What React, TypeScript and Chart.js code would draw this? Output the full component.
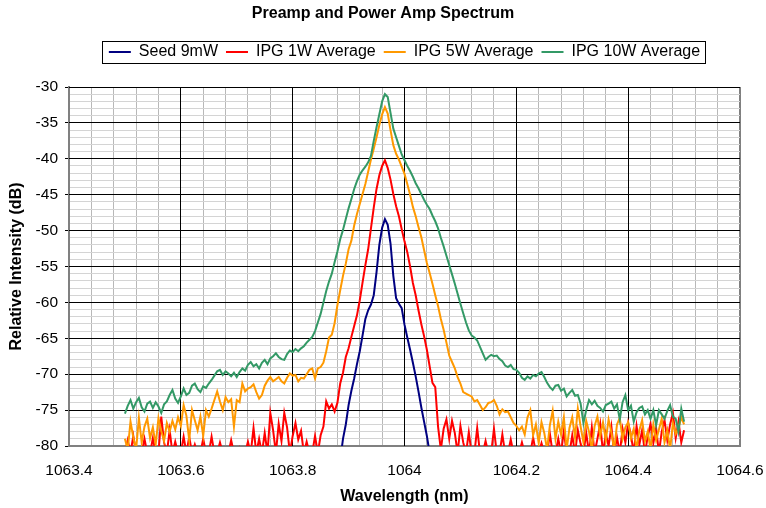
import { useEffect, useRef } from "react";
import { Chart, registerables } from "chart.js";

Chart.register(...registerables);

const FONT = "Arial, 'Liberation Sans', sans-serif";

const chartTitle = "Preamp and Power Amp Spectrum";
const xAxisTitle = "Wavelength (nm)";
const yAxisTitle = "Relative Intensity (dB)";

const seriesNames = ["Seed 9mW", "IPG 1W Average", "IPG 5W Average", "IPG 10W Average"];
const seriesColors = ["#000080", "#FF0000", "#FF9900", "#339966"];

// axis ranges / tick spacing
const X_MIN = 1063.4;
const X_MAX = 1064.6;
const X_MAJOR = 0.2;
const X_MINOR = 0.04;
const Y_MIN = -80;
const Y_MAX = -30;
const Y_MAJOR = 5;
const Y_MINOR = 1;

// sampling grid of the IPG spectra (1063.5 ... 1064.5 nm, 0.005 nm step)
const GRID_START = 1063.5;
const GRID_STEP = 0.005;
const GRID_COUNT = 201;
const wavelengths: number[] = Array.from({ length: GRID_COUNT }, (_, i) =>
  +(GRID_START + i * GRID_STEP).toFixed(3)
);

// Seed 9mW (only present around the line centre)
const seedWavelength = [
  1063.885, 1063.89, 1063.895, 1063.9, 1063.905, 1063.91, 1063.915, 1063.92, 1063.925, 1063.93,
  1063.935, 1063.94, 1063.945, 1063.95, 1063.955, 1063.96, 1063.965, 1063.97, 1063.975, 1063.98,
  1063.985, 1063.99, 1063.995, 1064, 1064.005, 1064.01, 1064.015, 1064.02, 1064.025, 1064.03,
  1064.035, 1064.04, 1064.045,
];
const seedValues = [
  -82, -79.0, -77.0, -74.3, -72.3, -70.6, -68.6, -66.8, -64.6, -62.3,
  -61.1, -60.3, -59.0, -55.8, -52.0, -49.6, -48.4, -49.2, -51.8, -56.3,
  -59.4, -60.2, -60.8, -63.1, -64.9, -66.6, -68.4, -70.3, -72.4, -74.6,
  -76.6, -78.6, -81,
];

// IPG 1W Average
const ipg1WValues = [
  -81, -79.2, -81, -78.6, -81, -80.5, -81, -79.0, -81, -81,
  -78.9, -81, -81, -75.9, -79.5, -81, -77.8, -81, -79.4, -81,
  -81, -78.7, -81, -78.7, -81, -79.8, -81, -81, -79.0, -81,
  -81, -78.7, -81, -81, -79.5, -81, -81, -81, -79.2, -81,
  -81, -80.2, -81, -81, -79.4, -81, -77.5, -81, -79.0, -81,
  -78.2, -81, -75.4, -77.8, -81, -76.9, -79.3, -75.4, -77.4, -81,
  -78.6, -76.8, -79.1, -77.9, -81, -79.4, -81, -81, -78.6, -81,
  -78.5, -77.3, -73.8, -74.8, -74.2, -75.2, -74.0, -71.3, -69.8, -67.6,
  -66.4, -64.8, -63.3, -61.8, -59.7, -57.2, -54.8, -52.6, -49.7, -46.8,
  -44.2, -42.3, -41.0, -40.2, -41.3, -42.9, -44.9, -46.6, -48.0, -49.8,
  -51.5, -53.0, -55.0, -57.3, -59.0, -61.1, -63.0, -64.7, -66.6, -68.9,
  -71.2, -71.8, -77.3, -80.5, -77.6, -76.3, -79.0, -76.5, -78.2, -81,
  -77.2, -79.5, -81, -78.1, -81, -81, -77.5, -81, -81, -79.3,
  -81, -81, -77.6, -81, -81, -78.4, -81, -81, -79.1, -81,
  -81, -81, -79.5, -81, -81, -81, -78.8, -81, -81, -79.6,
  -81, -81, -78.3, -81, -81, -79.0, -81, -77.9, -81, -81,
  -78.5, -81, -77.8, -79.7, -81, -78.2, -81, -77.4, -81, -79.0,
  -76.9, -81, -78.3, -80.0, -77.3, -81, -78.8, -81, -77.6, -79.5,
  -76.8, -78.5, -81, -77.2, -79.8, -77.8, -81, -78.7, -76.9, -79.6,
  -77.5, -81, -78.0, -76.4, -79.2, -77.0, -75.4, -78.9, -76.6, -79.5,
  -77.8,
];

// IPG 5W Average
const ipg5WValues = [
  -79.0, -80.5, -76.6, -78.8, -80.5, -76.1, -79.5, -77.3, -76.2, -78.9,
  -77.4, -79.8, -76.1, -77.9, -79.3, -76.8, -78.0, -76.5, -77.7, -76.0,
  -77.2, -74.3, -75.8, -79.2, -75.0, -76.4, -77.8, -75.9, -78.6, -75.0,
  -75.9, -74.8, -73.6, -72.4, -73.8, -75.0, -73.2, -73.9, -73.5, -77.3,
  -73.6, -73.9, -71.3, -72.4, -72.0, -71.8, -71.4, -72.5, -73.4, -72.9,
  -71.6, -70.9, -70.4, -71.0, -70.7, -70.4, -71.0, -71.3, -70.5, -69.9,
  -70.2, -70.1, -71.0, -70.5, -70.6, -70.0, -69.4, -69.2, -70.6, -69.2,
  -69.0, -68.4, -66.8, -64.9, -64.5, -62.9, -60.4, -58.3, -56.3, -54.6,
  -52.6, -51.4, -49.3, -47.7, -46.3, -44.9, -43.5, -41.8, -40.1, -38.6,
  -37.0, -35.3, -33.8, -32.8, -33.7, -36.0, -38.1, -39.3, -40.1, -41.1,
  -42.1, -43.5, -45.0, -46.7, -48.0, -49.5, -50.9, -52.7, -54.5, -55.9,
  -57.4, -59.0, -60.5, -62.3, -63.8, -65.6, -67.4, -68.3, -69.2, -70.4,
  -71.3, -72.5, -72.7, -72.9, -73.1, -73.8, -73.6, -74.3, -75.0, -74.6,
  -74.0, -73.9, -73.6, -74.4, -75.6, -74.9, -75.3, -75.2, -76.0, -76.8,
  -77.2, -77.8, -77.3, -78.4, -76.0, -75.0, -78.5, -77.0, -79.6, -76.7,
  -78.2, -80.5, -77.1, -75.1, -79.0, -76.6, -78.4, -76.0, -80.5, -77.5,
  -76.0, -78.8, -74.8, -77.3, -79.5, -76.5, -78.0, -80.5, -77.2, -75.9,
  -78.6, -76.7, -79.2, -76.3, -78.1, -80.5, -77.0, -76.1, -79.0, -77.4,
  -76.7, -78.9, -77.6, -80.5, -77.8, -76.4, -79.3, -78.0, -80.5, -77.0,
  -79.2, -77.7, -76.2, -79.5, -77.8, -80.5, -76.8, -78.3, -77.5, -76.0,
  -77.0,
];

// IPG 10W Average
const ipg10WValues = [
  -75.5, -74.4, -73.6, -74.8, -73.9, -73.3, -74.6, -75.2, -74.1, -73.8,
  -74.7, -73.9, -74.5, -75.4, -74.2, -73.8, -72.9, -72.2, -73.4, -74.0,
  -73.1, -72.0, -72.9, -72.6, -71.6, -71.3, -72.1, -72.5, -71.7, -71.9,
  -71.3, -70.8, -70.2, -69.6, -69.4, -70.1, -69.6, -69.9, -70.3, -69.8,
  -70.4, -69.7, -69.2, -69.5, -68.7, -68.3, -68.9, -68.6, -69.2, -68.4,
  -68.0, -68.6, -67.8, -67.5, -67.1, -67.6, -67.9, -68.0, -67.2, -66.7,
  -66.9, -66.5, -66.8, -66.4, -66.1, -65.6, -65.2, -64.8, -64.0, -62.8,
  -61.6, -60.0, -58.4, -57.1, -56.0, -54.4, -52.9, -51.2, -49.9, -48.4,
  -46.9, -45.6, -44.2, -43.1, -42.2, -41.6, -41.1, -40.5, -39.6, -37.5,
  -35.6, -33.8, -32.0, -31.0, -31.4, -33.6, -35.8, -37.0, -38.2, -39.4,
  -40.2, -41.0, -41.7, -42.5, -43.4, -44.1, -44.9, -45.7, -46.4, -47.0,
  -47.9, -48.7, -49.7, -51.0, -52.2, -53.5, -54.8, -56.1, -57.4, -58.8,
  -60.2, -61.5, -62.8, -63.9, -64.6, -64.9, -65.3, -66.2, -67.1, -68.0,
  -67.6, -67.3, -67.5, -67.4, -67.9, -68.2, -68.8, -69.0, -68.7, -69.3,
  -69.4, -69.8, -70.5, -70.8, -70.3, -70.6, -70.1, -70.3, -69.9, -69.7,
  -70.4, -71.2, -71.8, -72.2, -71.6, -71.5, -72.3, -72.0, -73.1, -72.6,
  -72.2, -73.0, -72.9, -74.1, -76.8, -75.0, -73.6, -74.2, -73.7, -74.4,
  -74.7, -75.2, -74.3, -74.1, -73.8, -74.8, -74.2, -76.3, -73.9, -72.9,
  -75.0, -74.4, -76.6, -75.3, -74.7, -74.5, -75.6, -75.0, -76.2, -75.0,
  -77.1, -75.0, -75.6, -76.2, -75.1, -74.3, -75.9, -76.2, -78.0, -74.8,
  -76.6,
];

const isMultiple = (v: number, step: number) => {
  const r = v / step;
  return Math.abs(r - Math.round(r)) < 1e-6;
};

const toPoints = (xs: number[], ys: number[]) => xs.map((x, i) => ({ x, y: ys[i] }));

const LEGEND_GAP = 17;

const alignPx = (p: number) => Math.round(p - 0.5) + 0.5;

const excelLayoutPlugin: any = {
  id: "excelLayout",
  beforeLayout(chart: any) {
    const legend = chart.legend;
    if (legend && !legend.__gapPatched) {
      const origFit = legend.fit.bind(legend);
      legend.fit = function () {
        origFit();
        this.height += LEGEND_GAP;
      };
      legend.__gapPatched = true;
    }
  },
  afterLayout(chart: any) {
    const ca = chart.chartArea;
    const legend = chart.legend;
    if (legend) {
      const d = (ca.left + ca.right) / 2 - (legend.left + legend.right) / 2;
      legend.left += d;
      legend.right += d;
    }
    const t = chart.titleBlock;
    if (t) {
      const d = chart.width / 2 - (t.left + t.right) / 2;
      t.left += d;
      t.right += d;
    }
  },
  // major gridlines are drawn over the minor ones (as in the original)
  beforeDatasetsDraw(chart: any) {
    const { ctx, chartArea: ca, scales } = chart;
    const xs = scales.x;
    const ys = scales.y;
    ctx.save();
    ctx.strokeStyle = "#000000";
    ctx.lineWidth = 1;
    ctx.beginPath();
    for (const t of xs.ticks) {
      const v = t.value;
      if (!isMultiple(v, X_MAJOR)) continue;
      if (Math.abs(v - X_MIN) < 1e-6 || Math.abs(v - X_MAX) < 1e-6) continue;
      const px = alignPx(xs.getPixelForValue(v));
      ctx.moveTo(px, ca.top);
      ctx.lineTo(px, ca.bottom);
    }
    for (const t of ys.ticks) {
      const v = t.value;
      if (!isMultiple(v, Y_MAJOR)) continue;
      if (Math.abs(v - Y_MIN) < 1e-6) continue;
      const py = alignPx(ys.getPixelForValue(v));
      ctx.moveTo(ca.left, py);
      ctx.lineTo(ca.right, py);
    }
    ctx.stroke();
    ctx.restore();
  },
  afterDraw(chart: any) {
    const legend = chart.legend;
    if (!legend || !legend.legendHitBoxes || !legend.legendHitBoxes.length) return;
    const hb = legend.legendHitBoxes;
    const first = hb[0];
    const last = hb[hb.length - 1];
    const x0 = Math.round(first.left - 7) + 0.5;
    const x1 = Math.round(last.left + last.width + 5) + 0.5;
    const y0 = Math.round(first.top - 3) + 0.5;
    const y1 = Math.round(first.top + first.height + 3) + 0.5;
    const ctx = chart.ctx;
    ctx.save();
    ctx.strokeStyle = "#000000";
    ctx.lineWidth = 1;
    ctx.strokeRect(x0, y0, x1 - x0, y1 - y0);
    ctx.restore();
  },
};

export default function App() {
  const canvasRef = useRef<HTMLCanvasElement>(null);

  useEffect(() => {
    document.body.style.margin = "0";
    const canvas = canvasRef.current;
    if (!canvas) return;

    const seriesData = [
      toPoints(seedWavelength, seedValues),
      toPoints(wavelengths, ipg1WValues),
      toPoints(wavelengths, ipg5WValues),
      toPoints(wavelengths, ipg10WValues),
    ];

    const datasets = seriesData.map((data, i) => ({
      label: seriesNames[i],
      data,
      borderColor: seriesColors[i],
      backgroundColor: seriesColors[i],
      borderWidth: 2,
      pointRadius: 0,
      pointHoverRadius: 0,
      tension: 0,
      fill: false,
      clip: 0,
      order: seriesNames.length - 1 - i,
    }));

    const chart = new Chart(canvas, {
      type: "line",
      data: { datasets } as any,
      options: {
        responsive: false,
        animation: false,
        events: [],
        layout: { padding: { left: 0, right: 26, top: 0, bottom: 0 } },
        plugins: {
          title: {
            display: true,
            text: chartTitle,
            color: "#000000",
            font: { family: FONT, size: 16, weight: "bold" },
            padding: { top: 4, bottom: 12.8 },
          },
          legend: {
            display: true,
            position: "top",
            labels: {
              usePointStyle: true,
              pointStyle: "line",
              pointStyleWidth: 22,
              color: "#000000",
              font: { family: FONT, size: 16 },
              padding: 8,
              sort: (a: any, b: any) => a.datasetIndex - b.datasetIndex,
            },
          },
          tooltip: { enabled: false },
        },
        scales: {
          x: {
            type: "linear",
            min: X_MIN,
            max: X_MAX,
            afterFit: (s: any) => {
              s.height = 62;
              s.paddingLeft = 0;
              s.paddingRight = 0;
            },
            ticks: {
              stepSize: X_MINOR,
              autoSkip: false,
              maxRotation: 0,
              minRotation: 0,
              padding: 10,
              color: "#000000",
              font: { family: FONT, size: 15.5 },
              callback: (v: any) => {
                const n = Number(v);
                return isMultiple(n, X_MAJOR) ? String(Math.round(n * 10) / 10) : "";
              },
            },
            grid: {
              color: (ctx: any) => {
                const v = ctx.tick ? ctx.tick.value : 0;
                if (Math.abs(v - X_MAX) < 1e-6) return "#808080";
                return isMultiple(v, X_MAJOR) ? "#000000" : "#b8b8b8";
              },
              lineWidth: (ctx: any) => {
                const v = ctx.tick ? ctx.tick.value : 0;
                return Math.abs(v - X_MAX) < 1e-6 ? 2 : 1;
              },
              drawTicks: true,
              tickLength: 5,
              tickColor: "rgba(0,0,0,0)",
            },
            border: { display: true, color: "#808080", width: 2 },
            title: {
              display: true,
              text: xAxisTitle,
              color: "#000000",
              font: { family: FONT, size: 16, weight: "bold" },
              padding: { top: 0, bottom: 1.4 },
            },
          },
          y: {
            type: "linear",
            min: Y_MIN,
            max: Y_MAX,
            afterFit: (s: any) => {
              s.width = 69;
            },
            ticks: {
              stepSize: Y_MINOR,
              autoSkip: false,
              padding: 7,
              color: "#000000",
              font: { family: FONT, size: 15.5 },
              callback: (v: any) => {
                const n = Number(v);
                return isMultiple(n, Y_MAJOR) ? String(Math.round(n)) : "";
              },
            },
            grid: {
              color: (ctx: any) => {
                const v = ctx.tick ? ctx.tick.value : 0;
                return isMultiple(v, Y_MAJOR) ? "#000000" : "#d4d4d4";
              },
              lineWidth: 1,
              drawTicks: true,
              tickLength: 4,
              tickColor: (ctx: any) => {
                const v = ctx.tick ? ctx.tick.value : 0;
                return isMultiple(v, Y_MAJOR) ? "#000000" : "rgba(0,0,0,0)";
              },
            },
            border: { display: true, color: "#808080", width: 2 },
            title: {
              display: true,
              text: yAxisTitle,
              color: "#000000",
              font: { family: FONT, size: 16, weight: "bold" },
              padding: { top: 7.4, bottom: 0 },
            },
          },
        },
      } as any,
      plugins: [excelLayoutPlugin],
    });

    return () => {
      chart.destroy();
    };
  }, []);

  return (
    <div style={{ width: 766, height: 508 }}>
      <canvas ref={canvasRef} width={766} height={508} style={{ display: "block" }} />
    </div>
  );
}
